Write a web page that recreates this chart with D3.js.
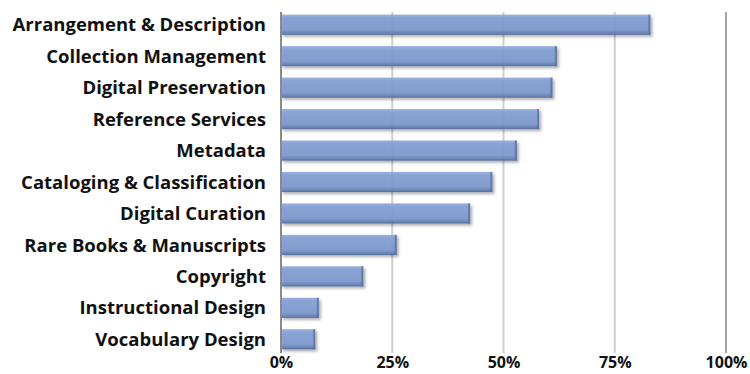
<!DOCTYPE html>
<html lang="en">
  <head>
    <meta charset="UTF-8" />
    <title>Skills</title>
    <style>
      body { margin: 0; background: #fff; }
      text { font-family: "Open Sans", sans-serif; font-weight: bold; fill: #111; }
    </style>
  </head>
  <body>
    <svg id="chart" width="750" height="374"></svg>
  </body>
  <script src="https://cdn.jsdelivr.net/npm/d3@7"></script>
  <script>
    // data
    const categories = [
      "Arrangement & Description", "Collection Management", "Digital Preservation",
      "Reference Services", "Metadata", "Cataloging & Classification", "Digital Curation",
      "Rare Books & Manuscripts", "Copyright", "Instructional Design", "Vocabulary Design"
    ];
    const values = [0.83, 0.62, 0.61, 0.58, 0.53, 0.475, 0.425, 0.26, 0.185, 0.085, 0.077];
    const ticks = [0, 0.25, 0.5, 0.75, 1];

    let svg = d3.select("#chart");

    // scales
    let x = d3.scaleLinear().domain([0, 1]).range([281, 726]);
    let y = d3.scaleBand().domain(categories).range([9, 355]).paddingInner(0.36).paddingOuter(0.18);

    // gradient + shadow for the bevelled bars
    let defs = svg.append("defs");
    let grad = defs.append("linearGradient").attr("id", "barGrad")
      .attr("x1", 0).attr("y1", 0).attr("x2", 0).attr("y2", 1);
    grad.append("stop").attr("offset", "0%").attr("stop-color", "#92abdc");
    grad.append("stop").attr("offset", "15%").attr("stop-color", "#839fd4");
    grad.append("stop").attr("offset", "75%").attr("stop-color", "#7c98ce");
    grad.append("stop").attr("offset", "90%").attr("stop-color", "#6580b6");
    grad.append("stop").attr("offset", "100%").attr("stop-color", "#4f6699");
    let sh = defs.append("filter").attr("id", "shadow")
      .attr("x", "-10%").attr("y", "-30%").attr("width", "130%").attr("height", "180%");
    sh.append("feDropShadow").attr("dx", 2).attr("dy", 2).attr("stdDeviation", 1.8)
      .attr("flood-color", "#000").attr("flood-opacity", 0.35);

    // grid lines
    svg.append("g").selectAll("line").data(ticks.slice(1)).enter().append("line")
      .attr("x1", (d) => x(d)).attr("x2", (d) => x(d))
      .attr("y1", 12).attr("y2", 353)
      .attr("stroke", (d) => (d === 1 ? "#a6a6a6" : "#cfcfcf"))
      .attr("stroke-width", 2);

    // bars
    let bars = svg.append("g").selectAll("g").data(categories).enter().append("g");
    bars.append("rect")
      .attr("x", x(0))
      .attr("y", (d) => y(d))
      .attr("width", (d, i) => x(values[i]) - x(0))
      .attr("height", y.bandwidth())
      .attr("fill", "url(#barGrad)")
      .attr("fill-opacity", 0.92)
      .attr("filter", "url(#shadow)");
    // darker right edge
    bars.append("rect")
      .attr("x", (d, i) => x(values[i]) - 2)
      .attr("y", (d) => y(d))
      .attr("width", 2)
      .attr("height", y.bandwidth())
      .attr("fill", "#56709f")
      .attr("fill-opacity", 0.8);

    // zero axis line
    svg.append("line").attr("x1", x(0)).attr("x2", x(0))
      .attr("y1", 12).attr("y2", 353)
      .attr("stroke", "#8a8a8a").attr("stroke-width", 2);

    // category labels
    let yAxis = d3.axisLeft(y).tickSize(0).tickPadding(15);
    let ya = svg.append("g").attr("transform", `translate(${x(0)},0)`).call(yAxis);
    ya.select(".domain").remove();
    ya.selectAll("text").style("font-size", "18.5px").style("font-family", "'Open Sans', sans-serif")
      .attr("fill", "#111").attr("dy", "0.36em");

    // percent labels
    let xAxis = d3.axisBottom(x).tickValues(ticks).tickSize(0).tickPadding(0)
      .tickFormat(d3.format(".0%"));
    let xa = svg.append("g").attr("transform", "translate(0,355)").call(xAxis);
    xa.select(".domain").remove();
    xa.selectAll("text").style("font-size", "16px").style("font-family", "'Open Sans', sans-serif")
      .attr("fill", "#111").attr("dy", "0.82em");
  </script>
</html>
